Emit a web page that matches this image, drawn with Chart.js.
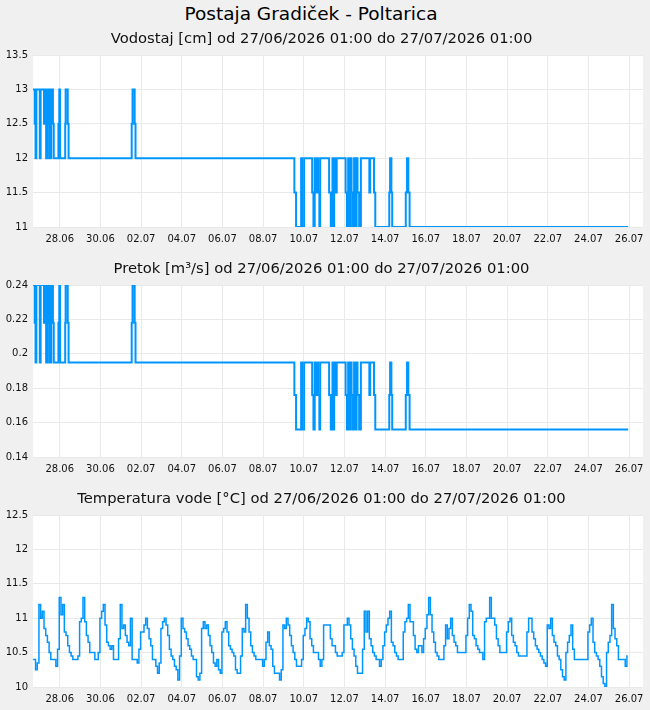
<!DOCTYPE html>
<html><head><meta charset="utf-8">
<script src="https://cdn.jsdelivr.net/npm/chart.js@4.4.1/dist/chart.umd.min.js"></script>
<style>
html,body{margin:0;padding:0;background:#f0f0f0;}
body{width:650px;height:710px;overflow:hidden;font-family:"DejaVu Sans",sans-serif;}
#main{height:25px;line-height:28px;text-align:center;font-size:18.5px;color:#000;white-space:nowrap;padding-right:28px;}
.box{width:650px;height:230px;}
canvas{display:block;}
</style></head><body>
<div id="main">Postaja Gradiček - Poltarica</div>
<div class="box"><canvas id="c1" width="650" height="230"></canvas></div>
<div class="box"><canvas id="c2" width="650" height="230"></canvas></div>
<div class="box"><canvas id="c3" width="650" height="230"></canvas></div>
<script>
// x axis: hours since 27/06/2026 01:00
const dateLabels = ['28.06','30.06','02.07','04.07','06.07','08.07','10.07','12.07','14.07','16.07','18.07','20.07','22.07','24.07','26.07'];
const dateTickHours = [31.6,79.6,127.6,175.6,223.6,271.6,319.6,367.6,415.6,463.6,511.6,559.6,607.6,655.6,703.6];

// Vodostaj [cm] — change points (hour, value)
const levelHours = [0,2,3,4,8,9,13,14.5,15.5,16.5,18,19,19.5,20.5,21.5,22.5,23.5,24.5,30,31,32,38,38.5,41,42,116.5,117.5,120,121,308.5,310.5,316.5,317.5,320,329.5,331,332.5,333.5,334.5,336.5,338,339,349.5,351.5,353.5,354,355.5,357.5,358.5,369,370.5,372,373,375,376,377.5,379,380,382,383,385,387,397,398,402.5,404,420.5,421.5,423,424,440,441.5,443,444.5,702.5];
const levelValues = [13,12.5,12,13,12,13,12.5,13,12,13,12.5,12,13,12,12.5,13,12.5,12,12.5,13,12,12.5,13,12.5,12,12.5,13,12.5,12,11.5,11,12,11,12,11.5,11,12,11.5,12,11.5,11,12,11.5,11,12,11,12,11.5,12,11.5,11,12,11,12,11.5,11,12,11,12,11.5,11,12,11.5,12,11.5,11,11.5,12,11.5,11,11.5,12,11.5,11,11];
const levelTicks = [11,11.5,12,12.5,13,13.5];

// Pretok [m3/s] — same change points
const flowValues = [0.24,0.218,0.195,0.24,0.195,0.24,0.218,0.24,0.195,0.24,0.218,0.195,0.24,0.195,0.218,0.24,0.218,0.195,0.218,0.24,0.195,0.218,0.24,0.218,0.195,0.218,0.24,0.218,0.195,0.176,0.156,0.195,0.156,0.195,0.176,0.156,0.195,0.176,0.195,0.176,0.156,0.195,0.176,0.156,0.195,0.156,0.195,0.176,0.195,0.176,0.156,0.195,0.156,0.195,0.176,0.156,0.195,0.156,0.195,0.176,0.156,0.195,0.176,0.195,0.176,0.156,0.176,0.195,0.176,0.156,0.176,0.195,0.176,0.156,0.156];
const flowTicks = [0.14,0.16,0.18,0.2,0.22,0.24];

// Temperatura vode [°C] — one reading every 2 hours
const tempStepHours = 2;
const tempValues = [
10.4,10.4,10.25,10.35,11.2,11.0,11.1,10.85,10.75,10.65,
10.5,10.4,10.4,10.4,10.3,10.55,11.3,11.05,11.2,10.8,
10.75,10.6,10.5,10.45,10.4,10.4,10.4,10.45,10.95,11.0,
11.3,10.95,10.75,10.65,10.5,10.5,10.5,10.4,10.4,10.5,
11.0,11.1,11.2,10.9,10.65,10.6,10.55,10.6,10.4,10.4,
10.4,10.7,11.2,10.85,10.9,10.75,10.65,10.6,11.0,10.4,
10.4,10.4,10.35,10.55,10.8,10.8,10.9,11.0,10.85,10.7,
10.6,10.4,10.4,10.3,10.2,10.35,10.85,10.95,11.0,10.9,
10.75,10.55,10.45,10.4,10.3,10.25,10.1,10.45,11.0,10.85,
10.8,10.7,10.6,10.55,10.45,10.4,10.4,10.15,10.1,10.2,
10.85,10.95,10.85,10.9,10.75,10.6,10.5,10.35,10.3,10.4,
10.25,10.2,10.8,10.85,10.95,10.8,10.6,10.55,10.5,10.45,
10.25,10.2,10.2,10.45,10.85,10.8,11.2,11.0,10.8,10.6,
10.5,10.45,10.4,10.4,10.4,10.4,10.3,10.4,10.65,10.8,
10.6,10.55,10.3,10.2,10.2,10.2,10.1,10.25,10.9,10.85,
11.0,10.9,10.75,10.6,10.5,10.4,10.3,10.3,10.3,10.4,
10.75,10.85,11.0,10.95,10.7,10.6,10.5,10.5,10.5,10.4,
10.3,10.4,10.9,10.9,10.9,10.9,10.7,10.6,10.6,10.5,
10.45,10.45,10.45,10.5,10.9,10.9,11.0,10.9,10.7,10.55,
10.45,10.3,10.2,10.2,10.2,10.55,11.1,10.8,11.1,10.7,
10.6,10.5,10.45,10.4,10.4,10.3,10.4,10.6,10.8,10.9,
11.0,11.1,10.65,10.6,10.5,10.45,10.4,10.4,10.4,10.8,
10.95,11.0,11.2,10.95,10.95,10.75,10.55,10.5,10.6,10.6,
10.5,10.7,10.85,11.05,11.3,11.05,10.8,10.65,10.5,10.45,
10.4,10.4,10.4,10.6,10.9,10.7,10.85,11.0,10.75,10.65,
10.6,10.5,10.5,10.5,10.5,10.5,10.75,11.0,11.2,11.1,
10.75,10.7,10.6,10.55,10.5,10.5,10.4,10.95,11.0,11.0,
11.3,11.0,11.0,10.9,10.7,10.6,10.5,10.5,10.5,10.5,
10.8,10.95,11.0,10.75,10.65,10.6,10.5,10.45,10.45,10.45,
10.45,10.45,10.8,11.0,11.0,10.8,10.7,10.6,10.55,10.5,
10.45,10.4,10.35,10.3,10.9,10.85,11.0,10.75,10.65,10.6,
10.45,10.4,10.25,10.15,10.1,10.5,10.65,10.75,10.9,10.55,
10.4,10.4,10.4,10.4,10.4,10.4,10.4,10.4,10.8,10.9,
11.0,10.65,10.5,10.45,10.4,10.3,10.15,10.05,10.0,10.5,
10.65,10.75,11.2,10.85,10.7,10.6,10.4,10.4,10.4,10.4,
10.3,10.45];
const tempTicks = [10,10.5,11,11.5,12,12.5];

const subtitles = [
  'Vodostaj [cm] od 27/06/2026 01:00 do 27/07/2026 01:00',
  'Pretok [m³/s] od 27/06/2026 01:00 do 27/07/2026 01:00',
  'Temperatura vode [°C] od 27/06/2026 01:00 do 27/07/2026 01:00'
];

const LINE = '#0096ff';
const FONT = 'DejaVu Sans';

const plotBg = {
  id: 'plotBg',
  beforeDraw(chart) {
    const a = chart.chartArea, c = chart.ctx;
    c.save(); c.fillStyle = '#ffffff';
    c.fillRect(a.left, a.top, a.right - a.left, a.bottom - a.top);
    c.restore();
  }
};

function makeChart(id, title, data, yMin, yMax, yTicks, stepped, lw) {
  return new Chart(document.getElementById(id), {
    type: 'line',
    data: { datasets: [{ data: data, borderColor: LINE, borderWidth: lw, pointRadius: 0, fill: false, stepped: stepped, tension: 0 }] },
    options: {
      responsive: false, animation: false, events: [],
      layout: { padding: { left: 0, right: 7, top: 0, bottom: 0 } },
      plugins: {
        legend: { display: false }, tooltip: { enabled: false },
        title: { display: true, text: title, color: '#111', font: { family: FONT, size: 14.75, weight: 'normal' }, padding: { top: 5, bottom: 7.3 } }
      },
      scales: {
        x: {
          type: 'linear', min: 0, max: 720,
          afterBuildTicks: s => { s.ticks = dateTickHours.map(v => ({ value: v })); },
          afterFit: s => { s.height = 28; },
          ticks: { autoSkip: false, maxRotation: 0, minRotation: 0, padding: 6, color: '#111', font: { family: FONT, size: 10 },
                   callback: (v, i) => dateLabels[i] },
          grid: { color: '#e9e9e9', drawTicks: false },
          border: { display: false }
        },
        y: {
          min: yMin, max: yMax,
          afterBuildTicks: s => { s.ticks = yTicks.map(v => ({ value: v })); },
          afterFit: s => { s.width = 33; },
          ticks: { padding: 5, color: '#111', font: { family: FONT, size: 10 }, callback: v => String(v) },
          grid: { color: '#e9e9e9', drawTicks: false },
          border: { display: false }
        }
      }
    },
    plugins: [plotBg]
  });
}

const levelData = levelHours.map((h, i) => ({ x: h, y: levelValues[i] }));
const flowData = levelHours.map((h, i) => ({ x: h, y: flowValues[i] }));
const tempData = tempValues.map((v, i) => ({ x: i * tempStepHours, y: v }));

makeChart('c1', subtitles[0], levelData, 11, 13.5, levelTicks, 'before', 2);
makeChart('c2', subtitles[1], flowData, 0.14, 0.24, flowTicks, 'before', 2);
makeChart('c3', subtitles[2], tempData, 10, 12.5, tempTicks, 'middle', 1.5);
</script>
</body></html>
